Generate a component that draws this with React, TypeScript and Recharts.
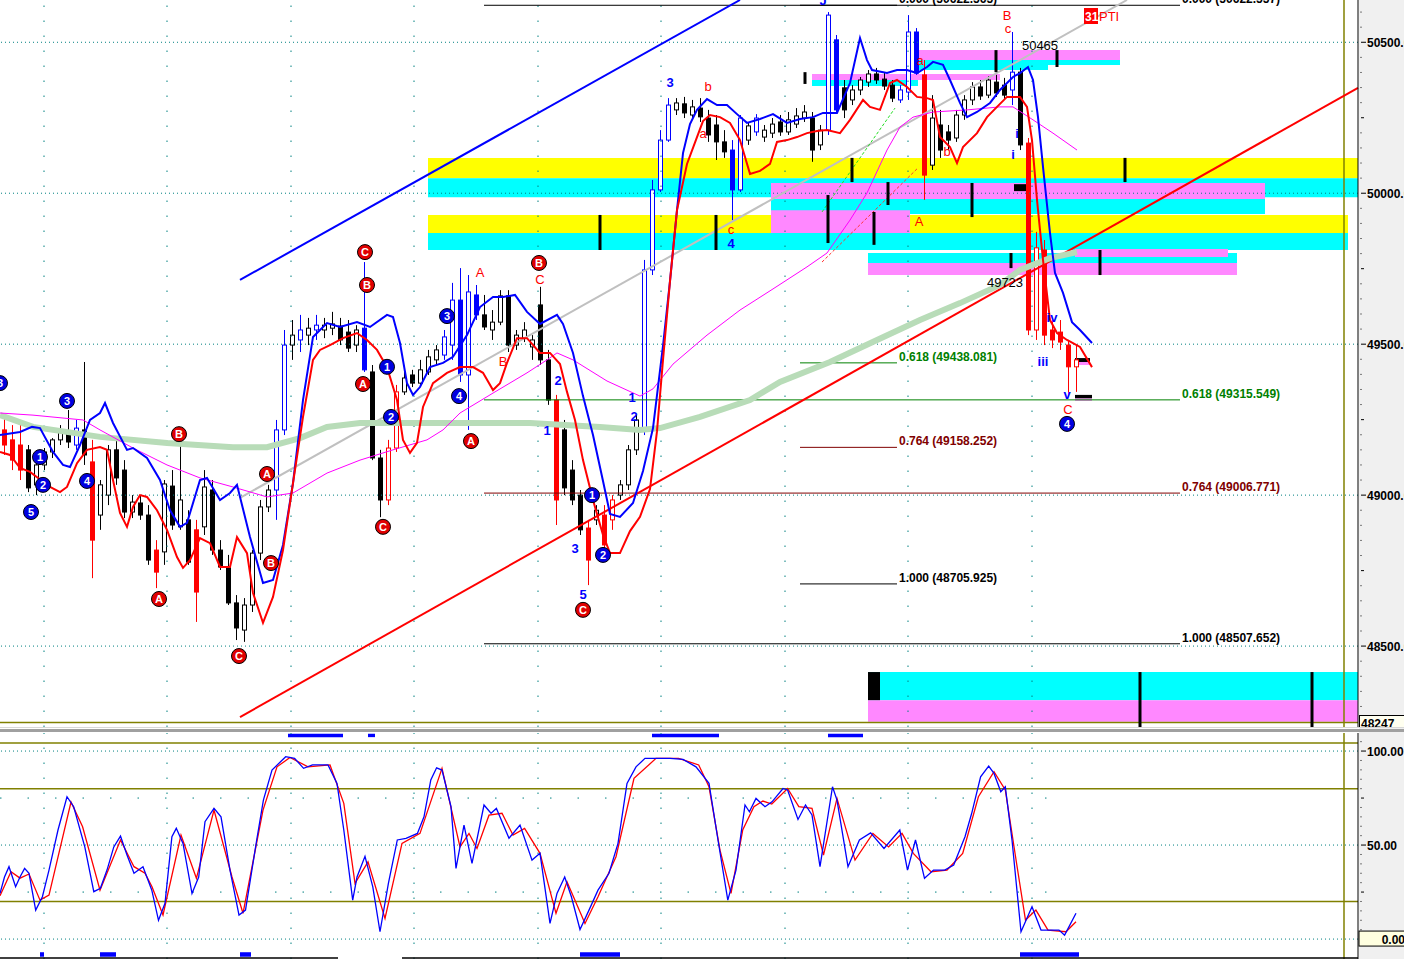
import React from "react";
import {
  ComposedChart,
  XAxis,
  YAxis,
  Bar,
  Line,
  Scatter,
  ReferenceLine,
  ReferenceArea,
} from "recharts";

const W = 1404;
const MAIN_H = 727;
const OSC_H = 226;
const AXIS_W = 46;
const FONT = "'Liberation Sans', Arial, sans-serif";

// time axis: 8-minute bars, first bar at minute 4
const BAR_MINUTES = 8;
const FIRST_BAR = 4;
const SESSION: [number, number] = [0, 1358];
const PRICE_RANGE: [number, number] = [48232, 50640];
const OSC_RANGE: [number, number] = [-10.6, 109.6];

const YELLOW = "#ffff00";
const CYAN = "#00ffff";
const PINK = "#ff88ff";
const OLIVE = "#808000";
const GRID = "#008080";

// ---- price bars ----
const opens = [
  49216, 49183, 49166, 49150, 49034, 49100, 49143, 49183, 49209, 49166,
  49216, 49110, 48934, 49000, 49150, 49083, 48944, 48974, 48934, 48818,
  48812, 49030, 48895, 48918, 48885, 48895, 49017, 48818, 48762, 48643,
  48553, 48636, 48808, 48961, 49017, 49216, 49497, 49514, 49530, 49547,
  49547, 49553, 49560, 49540, 49497, 49553, 49408, 49123, 48984, 49156,
  49342, 49398, 49371, 49408, 49448, 49464, 49497, 49646, 49398, 49663,
  49597, 49547, 49573, 49660, 49497, 49520, 49491, 49630, 49448, 49315,
  49216, 49083, 49000, 48891, 48918, 48934, 48918, 49000, 49034, 49150,
  49216, 49746, 50011, 50176, 50276, 50296, 50259, 50282, 50249, 50226,
  50170, 50143, 50011, 50176, 50203, 50186, 50199, 50236, 50203, 50229,
  50249, 50249, 50160, 50209, 50508, 50349, 50309, 50342, 50368, 50395,
  50378, 50358, 50309, 50335, 50534, 50392, 50093, 50226, 50203, 50183,
  50259, 50309, 50352, 50325, 50368, 50358, 50342, 50401, 50166, 49547,
  49812, 49547, 49540, 49497, 49425,
];
const highs = [
  49265, 49232, 49249, 49166, 49116, 49156, 49189, 49232, 49282, 49249,
  49441, 49183, 49050, 49166, 49183, 49116, 49000, 49000, 48967, 48851,
  49050, 49083, 49173, 48950, 48918, 49083, 49050, 48851, 48802, 48669,
  48659, 48818, 48984, 49034, 49249, 49547, 49580, 49597, 49587, 49597,
  49587, 49607, 49587, 49580, 49563, 49772, 49431, 49150, 49183, 49365,
  49408, 49415, 49448, 49481, 49497, 49547, 49703, 49752, 49729, 49696,
  49663, 49613, 49679, 49679, 49547, 49573, 49530, 49690, 49481, 49332,
  49249, 49116, 49017, 48918, 48967, 48967, 49000, 49050, 49166, 49265,
  49779, 50044, 50209, 50315, 50315, 50319, 50309, 50315, 50276, 50259,
  50209, 50176, 50259, 50236, 50262, 50226, 50249, 50259, 50269, 50282,
  50292, 50269, 50226, 50600, 50524, 50375, 50358, 50385, 50408, 50415,
  50401, 50375, 50358, 50590, 50547, 50441, 50325, 50276, 50226, 50276,
  50325, 50368, 50375, 50388, 50392, 50382, 50534, 50415, 50183, 49872,
  49845, 49587, 49580, 49514, 49497,
];
const lows = [
  49133, 49083, 49050, 49010, 49000, 49083, 49123, 49166, 49156, 49150,
  49100, 48725, 48885, 48967, 49034, 48924, 48924, 48918, 48769, 48692,
  48769, 48885, 48885, 48769, 48580, 48868, 48802, 48752, 48636, 48520,
  48514, 48613, 48785, 48944, 48918, 49199, 49448, 49474, 49497, 49514,
  49520, 49530, 49497, 49474, 49474, 49408, 49116, 48927, 48967, 49143,
  49332, 49358, 49365, 49398, 49431, 49448, 49448, 49375, 49216, 49580,
  49547, 49514, 49563, 49474, 49481, 49507, 49448, 49431, 49299, 48901,
  49000, 48967, 48868, 48702, 48901, 48802, 48885, 48984, 49017, 49133,
  49199, 49729, 50004, 50170, 50259, 50249, 50243, 50236, 50170, 50110,
  50117, 49911, 50004, 50160, 50190, 50170, 50183, 50190, 50193, 50216,
  50236, 50104, 50143, 50193, 50269, 50249, 50292, 50325, 50352, 50362,
  50342, 50302, 50299, 50309, 50392, 49978, 50077, 50117, 50143, 50170,
  50243, 50292, 50309, 50315, 50319, 50309, 50292, 50143, 49530, 49514,
  49497, 49487, 49481, 49332, 49342,
];
const closes = [
  49166, 49116, 49083, 49024, 49100, 49143, 49183, 49209, 49176, 49222,
  49133, 48851, 49034, 49150, 49057, 48944, 48977, 48934, 48785, 48745,
  49037, 48901, 48984, 48778, 48679, 49027, 48818, 48762, 48643, 48560,
  48636, 48808, 48961, 49017, 49216, 49497, 49530, 49547, 49553, 49563,
  49563, 49567, 49514, 49487, 49547, 49415, 49123, 48984, 49156, 49342,
  49388, 49371, 49415, 49458, 49481, 49524, 49646, 49398, 49673, 49597,
  49557, 49573, 49660, 49497, 49530, 49547, 49514, 49448, 49315, 48984,
  49024, 48984, 48885, 48785, 48950, 48835, 48984, 49034, 49150, 49249,
  49746, 50011, 50176, 50292, 50299, 50266, 50286, 50253, 50193, 50170,
  50137, 50011, 50249, 50223, 50249, 50209, 50229, 50203, 50243, 50256,
  50269, 50143, 50209, 50590, 50276, 50276, 50342, 50375, 50395, 50375,
  50355, 50315, 50342, 50534, 50398, 50060, 50249, 50143, 50176, 50259,
  50309, 50352, 50322, 50375, 50332, 50325, 50401, 50160, 49547, 49819,
  49530, 49514, 49507, 49425, 49448,
];
// bar colouring from the trading system: k normal, b blue regime, r red regime
const tones = (
  "rrrkkkkkkb" + "krkkkkkkkr" + "kkkkrkkkkk" + "kkkkbbkbkb" + "kkkkkbkkrr" +
  "kkkkkbbbbb" + "kkkkkkkkkr" + "kkkrkrrkkk" + "bbbbkkkkkk" + "kbbkbkkkkk" +
  "kkkbbkkkkk" + "kkbbbrkkkk" + "kkkkkkbkrr" + "rrrrr"
).split("");

// ---- overlays [minute, price] ----
const upperBand = [
  [0, 49199], [20, 49209], [32, 49226], [40, 49222], [53, 49143], [63, 49100], [70, 49093],
  [80, 49166], [90, 49249], [100, 49272], [105, 49305], [113, 49239], [127, 49150], [133, 49156],
  [147, 49123], [160, 49050], [170, 48950], [180, 48895], [187, 48908], [200, 49050], [207, 49057],
  [220, 48984], [230, 49007], [237, 49034], [250, 48861], [263, 48709], [273, 48719], [283, 48835],
  [293, 49040], [303, 49315], [313, 49524], [327, 49570], [340, 49557], [357, 49573], [370, 49557],
  [387, 49597], [393, 49590], [400, 49504], [407, 49371], [413, 49332], [420, 49358], [430, 49424],
  [443, 49438], [453, 49458], [467, 49530], [480, 49623], [493, 49656], [503, 49656], [515, 49663],
  [527, 49607], [540, 49567], [557, 49597], [563, 49567], [573, 49471], [583, 49328], [593, 49199],
  [603, 49047], [610, 48938], [620, 48928], [633, 48974], [643, 49080], [653, 49222], [663, 49494],
  [670, 49709], [677, 49944], [683, 50133], [690, 50229], [697, 50276], [707, 50312], [717, 50292],
  [727, 50292], [737, 50262], [747, 50233], [760, 50246], [773, 50262], [787, 50233], [800, 50246],
  [813, 50252], [823, 50266], [837, 50266], [850, 50365], [860, 50514], [867, 50441], [872, 50408],
  [887, 50398], [897, 50408], [907, 50408], [917, 50398], [927, 50418], [933, 50435], [943, 50425],
  [950, 50375], [960, 50299], [967, 50252], [977, 50269], [990, 50299], [1000, 50342], [1013, 50385],
  [1020, 50398], [1028, 50418], [1033, 50375], [1038, 50252], [1043, 50087], [1050, 49868],
  [1055, 49736], [1063, 49670], [1072, 49573], [1080, 49547], [1092, 49504],
];
const lowerBand = [
  [0, 49143], [10, 49133], [20, 49090], [30, 49077], [50, 49027], [60, 49010], [67, 49027],
  [77, 49106], [87, 49150], [100, 49159], [107, 49150], [113, 49050], [120, 48941], [127, 48895],
  [133, 48961], [140, 49000], [147, 48994], [157, 48950], [167, 48885], [177, 48795], [183, 48759],
  [190, 48785], [200, 48858], [210, 48841], [220, 48762], [230, 48762], [237, 48861], [247, 48808],
  [253, 48676], [263, 48577], [273, 48663], [283, 48818], [293, 49040], [303, 49259], [313, 49448],
  [320, 49481], [330, 49497], [343, 49520], [357, 49537], [367, 49514], [377, 49481], [387, 49424],
  [397, 49315], [403, 49183], [410, 49140], [417, 49173], [423, 49292], [433, 49371], [447, 49405],
  [460, 49424], [473, 49424], [483, 49405], [493, 49348], [500, 49371], [507, 49438], [517, 49520],
  [527, 49520], [540, 49471], [550, 49471], [560, 49434], [567, 49342], [575, 49249], [583, 49116],
  [593, 48984], [603, 48868], [610, 48808], [620, 48808], [630, 48881], [640, 48928], [650, 49020],
  [657, 49212], [663, 49448], [670, 49709], [677, 49944], [687, 50097], [697, 50186], [703, 50239],
  [710, 50259], [720, 50252], [730, 50233], [740, 50176], [750, 50064], [760, 50074], [770, 50097],
  [777, 50170], [787, 50176], [797, 50186], [807, 50199], [817, 50206], [827, 50209], [840, 50199],
  [850, 50243], [863, 50309], [870, 50286], [880, 50276], [890, 50365], [897, 50375], [907, 50352],
  [917, 50319], [927, 50315], [933, 50309], [940, 50186], [950, 50153], [957, 50100], [963, 50153],
  [977, 50199], [987, 50252], [997, 50286], [1007, 50319], [1020, 50319], [1027, 50286],
  [1032, 50176], [1037, 49978], [1043, 49779], [1050, 49580], [1057, 49537], [1067, 49514],
  [1080, 49491], [1092, 49424],
];
const slowAverage = [
  [0, 49265], [33, 49226], [100, 49193], [167, 49173], [233, 49159], [267, 49159], [300, 49189],
  [327, 49226], [360, 49239], [430, 49239], [530, 49239], [600, 49226], [640, 49216], [660, 49222],
  [700, 49259], [750, 49315], [780, 49375], [830, 49441], [877, 49514], [920, 49580], [960, 49636],
  [1000, 49696], [1020, 49746], [1050, 49785], [1077, 49805],
];
const midAverage = [
  [0, 49272], [33, 49265], [83, 49249], [100, 49216], [133, 49156], [167, 49100], [200, 49057],
  [233, 49027], [267, 48994], [293, 49007], [327, 49073], [360, 49116], [393, 49150], [427, 49183],
  [443, 49216], [460, 49272], [493, 49338], [527, 49405], [547, 49448], [557, 49471], [573, 49448],
  [607, 49378], [640, 49328], [653, 49352], [673, 49434], [707, 49530], [740, 49613], [773, 49683],
  [807, 49756], [827, 49802], [850, 49911], [867, 50001], [887, 50143], [900, 50219], [913, 50252],
  [933, 50269], [967, 50276], [1000, 50286], [1013, 50286], [1033, 50243], [1053, 50199],
  [1077, 50143],
];

// straight trend lines: [minute, price] pairs
const trendLines = [
  { a: [240, 49713], b: [740, 50640], color: "#0000ff", width: 2, dash: undefined },
  { a: [240, 48265], b: [1358, 50349], color: "#ff0000", width: 2, dash: undefined },
  { a: [240, 48991], b: [1127, 50640], color: "#c0c0c0", width: 2, dash: undefined },
  { a: [822, 49938], b: [895, 50282], color: "#22dd22", width: 1, dash: "3 2" },
  { a: [822, 49772], b: [918, 50084], color: "#ff3030", width: 1, dash: "3 2" },
];

const fibLevels = [
  { from: 800, to: 897, price: 50622.565, text: "0.000 (50622.565)", color: "#000000" },
  { from: 800, to: 897, price: 49438.081, text: "0.618 (49438.081)", color: "#008000" },
  { from: 800, to: 897, price: 49158.252, text: "0.764 (49158.252)", color: "#800000" },
  { from: 800, to: 897, price: 48705.925, text: "1.000 (48705.925)", color: "#000000" },
  { from: 484, to: 1180, price: 50622.557, text: "0.000 (50622.557)", color: "#000000" },
  { from: 484, to: 1180, price: 49315.549, text: "0.618 (49315.549)", color: "#008000" },
  { from: 484, to: 1180, price: 49006.771, text: "0.764 (49006.771)", color: "#800000" },
  { from: 484, to: 1180, price: 48507.652, text: "1.000 (48507.652)", color: "#000000" },
];

const zones = [
  { x1: 428, x2: 1358, y1: 50050, y2: 50117, fill: YELLOW },
  { x1: 428, x2: 1358, y1: 49987, y2: 50050, fill: CYAN },
  { x1: 771, x2: 1265, y1: 49981, y2: 50034, fill: PINK },
  { x1: 771, x2: 1265, y1: 49931, y2: 49981, fill: CYAN },
  { x1: 428, x2: 1348, y1: 49868, y2: 49928, fill: YELLOW },
  { x1: 771, x2: 910, y1: 49868, y2: 49944, fill: PINK },
  { x1: 428, x2: 1348, y1: 49812, y2: 49868, fill: CYAN },
  { x1: 868, x2: 1237, y1: 49769, y2: 49802, fill: CYAN },
  { x1: 868, x2: 1237, y1: 49729, y2: 49769, fill: PINK },
  { x1: 1075, x2: 1228, y1: 49789, y2: 49815, fill: PINK },
  { x1: 918, x2: 1120, y1: 50441, y2: 50474, fill: PINK },
  { x1: 918, x2: 1048, y1: 50408, y2: 50441, fill: CYAN },
  { x1: 1048, x2: 1120, y1: 50425, y2: 50441, fill: CYAN },
  { x1: 812, x2: 1000, y1: 50375, y2: 50395, fill: PINK },
  { x1: 812, x2: 918, y1: 50355, y2: 50375, fill: CYAN },
  { x1: 868, x2: 1358, y1: 48321, y2: 48414, fill: CYAN },
  { x1: 868, x2: 1358, y1: 48249, y2: 48321, fill: PINK },
  { x1: 868, x2: 880, y1: 48321, y2: 48414, fill: "#000000" },
  { x1: 1014, x2: 1026, y1: 50007, y2: 50030, fill: "#000000" },
  { x1: 1075, x2: 1090, y1: 49441, y2: 49454, fill: "#000000" },
  { x1: 1075, x2: 1090, y1: 49431, y2: 49441, fill: PINK },
  { x1: 1075, x2: 1092, y1: 49320, y2: 49332, fill: "#000000" },
  { x1: 1075, x2: 1092, y1: 49312, y2: 49320, fill: PINK },
];

// black signal ticks: [minute, top price, bottom price]
const signalTicks = [
  [600, 49928, 49812], [716, 49928, 49812], [828, 49994, 49835], [852, 50117, 50037],
  [874, 49938, 49829], [888, 50037, 49961], [972, 50034, 49921], [1125, 50117, 50037],
  [996, 50474, 50401], [1057, 50474, 50418], [1140, 48414, 48232], [1312, 48414, 48232],
  [1100, 49812, 49729], [1011, 49802, 49752], [805, 50401, 50362],
];

// wave counts: [minute, price, label]
const redCircles = [
  [365, 49805, "C"], [367, 49696, "B"], [363, 49368, "A"], [383, 48895, "C"], [471, 49179, "A"],
  [539, 49769, "B"], [583, 48620, "C"], [179, 49202, "B"], [159, 48656, "A"], [239, 48467, "C"],
  [267, 49070, "A"], [271, 48775, "B"],
];
const blueCircles = [
  [0, 49371, "3"], [31, 48944, "5"], [40, 49126, "1"], [43, 49034, "2"], [67, 49312, "3"],
  [87, 49047, "4"], [387, 49425, "1"], [391, 49259, "2"], [447, 49593, "3"], [459, 49328, "4"],
  [592, 49000, "1"], [603, 48802, "2"], [1067, 49236, "4"],
];
const redLetters = [
  [480, 49739, "A"], [540, 49713, "C"], [503, 49441, "B"], [708, 50352, "b"], [703, 50199, "a"],
  [731, 49881, "c"], [920, 50441, "a"], [947, 50137, "b"], [919, 49905, "A"], [1007, 50590, "B"],
  [1008, 50547, "c"], [1068, 49282, "C"],
];
const blueLetters = [
  [670, 50368, "3"], [731, 49835, "4"], [547, 49213, "1"], [558, 49381, "2"], [575, 48822, "3"],
  [583, 48672, "5"], [632, 49322, "1"], [634, 49259, "2"], [1017, 50199, "i"], [1013, 50127, "i"],
  [1052, 49590, "iv"], [1043, 49441, "iii"], [1067, 49334, "v"], [823, 50640, "J"],
];
const priceNotes = [
  [1040, 50488, "50465"], [1005, 49703, "49723"],
];
const badge = [[1084, 50587, "31"]];

const priceLabels = [48500, 49000, 49500, 50000, 50500];
const lastPrice = 48247;

// ---- stochastic [minute, value] ----
const stochK = [
  [0, 24.3], [4.5, 33], [9, 38.5], [15.6, 27.8], [20, 33], [24.6, 37.6], [29, 35], [35.7, 15.4],
  [42.4, 22.5], [49, 36.7], [58, 58], [67, 75.7], [73.7, 70.4], [84.8, 49], [93.8, 25.2],
  [100.4, 27], [107, 36.7], [113.8, 49], [120.5, 54.8], [127, 44.7], [134, 35], [143, 38.5],
  [151.8, 26], [158.5, 10], [165, 19], [171.9, 54.4], [176.3, 58.9], [183, 50.9], [192, 24.3],
  [198.7, 33], [205, 62.4], [214, 69.5], [221, 65], [230, 36.7], [239, 12.8], [245.5, 15.4],
  [256.7, 52.7], [263.4, 73.9], [272, 89.9], [285.7, 97], [294.6, 96.1], [303.6, 90.8],
  [312.5, 92.6], [328, 92.6], [337, 82.8], [343.8, 58], [352.7, 20.7], [357, 33], [365, 44],
  [372.8, 27.8], [380, 3.9], [388.4, 29.6], [397.3, 52.7], [406, 53.6], [417.4, 56.2], [424, 65],
  [430.8, 84.6], [436.6, 91.1], [442, 89.9], [451, 70.4], [456, 37.6], [464, 60.6], [472, 40.2],
  [484, 71.3], [491, 66.9], [496.4, 69.5], [509, 53.6], [520, 60.6], [532, 42], [540, 45.6],
  [550, 8.3], [557, 24.3], [564.7, 33], [571.4, 22.5], [580, 5.1], [589, 15.4], [598, 26],
  [609, 35], [618, 50.9], [627, 82.8], [636, 91.6], [645, 96.1], [656, 96.1], [670, 96.1],
  [683, 95.6], [696, 91.6], [709, 82.8], [718, 52.7], [727.8, 20.7], [736, 36.7], [745, 71.3],
  [749.4, 67.7], [756, 74.8], [765, 70.4], [772, 73], [783, 80.1], [787.6, 79.3], [798, 63.6],
  [805.5, 71.3], [812, 66], [820, 38.5], [832.5, 81], [837, 73.9], [848, 38.5], [859.4, 52.7],
  [870.6, 56.5], [884, 48.2], [899.8, 58], [907.5, 36.7], [915.5, 52.7], [924.5, 32.3],
  [933.5, 36.7], [944.7, 36.7], [953.7, 39.4], [965, 54.4], [971.7, 66.9], [980.6, 86.3],
  [988.7, 92], [994, 88.1], [1000.8, 78.4], [1005.3, 81], [1012, 52.7], [1021, 3.9], [1032, 17.2],
  [1041, 4.8], [1059, 4.8], [1064.6, 2.1], [1076, 13.7],
];
const stochD = [
  [0, 23], [11, 35.8], [20, 32.4], [29, 34.6], [40, 20.7], [49, 23.4], [71, 72.9], [82.6, 59.7],
  [100, 26], [120.5, 52.7], [134, 38.5], [145, 35], [152, 27.8], [163, 12.8], [181, 55.3],
  [196.4, 32.3], [214, 68.6], [232, 33], [243, 13.7], [263, 68.6], [277, 91.6], [290, 96.6],
  [308, 91.6], [330, 92.6], [343.8, 72.2], [355, 29.6], [368, 41.1], [385, 11], [402, 50.9],
  [420, 56.2], [442, 90.8], [460, 49], [469, 56.2], [477, 48.2], [489, 65.9], [502, 66.9],
  [513, 55.3], [524.6, 58.9], [540, 45.6], [556, 13.7], [567, 30.5], [585, 8.3], [598, 22.5],
  [616, 43.8], [634, 85.5], [656, 96.1], [678.6, 96.1], [698.7, 92.6], [709, 81], [720, 47.3],
  [731, 24.3], [742.7, 58], [753.9, 70.4], [762.9, 73.4], [771.8, 71.8], [787.6, 80.1],
  [798.8, 70.4], [812, 69.5], [823.5, 44.7], [837, 74.8], [855, 42], [872.9, 56.2], [888.6, 49],
  [902, 56.2], [913.3, 45.6], [931, 35.8], [947, 36.7], [962.7, 45.6], [978.4, 75.7], [994, 89],
  [1005.3, 79.3], [1016.6, 40.2], [1025.5, 10.1], [1035.9, 15.4], [1048, 4.8], [1066, 3.9],
  [1076, 9.2],
];
// signal strips above / below the oscillator: [from minute, to minute]
const stripTop = [[288, 343], [368, 375], [652, 719], [828, 863]];
const stripBottom = [[40, 44], [100, 116], [240, 251], [580, 620], [1020, 1079]];
const oscLabels = [0, 50, 100];

const gridMinutes = [44, 167, 291, 414, 538, 661, 785, 908, 1032];

const TONE: Record<string, string> = { k: "#000000", b: "#0000ff", r: "#ff0000" };

const candles = opens.map((open, i) => ({
  minute: FIRST_BAR + i * BAR_MINUTES,
  open,
  high: highs[i],
  low: lows[i],
  close: closes[i],
  tone: tones[i],
  range: [lows[i], highs[i]],
}));

const pts = (rows: any[]) => rows.map(([minute, v, text]) => ({ minute, v, text }));

const priceTicks: number[] = [];
for (let p = 48250; p <= 50600; p += 50) priceTicks.push(p);
const oscTicks: number[] = [];
for (let v = 0; v <= 105; v += 5) oscTicks.push(v);

function Candle(props: any) {
  const { x, y, width, height, payload } = props;
  if (!payload || height == null) return null;
  const { open, close, high, low, tone } = payload;
  const top = Math.min(y, y + height);
  const span = Math.abs(height);
  const k = span / (high - low || 1);
  const yo = top + (high - open) * k;
  const yc = top + (high - close) * k;
  const cx = Math.round(x + width / 2);
  const color = TONE[tone];
  const rising = close >= open;
  const bt = Math.min(yo, yc);
  const bh = Math.max(1, Math.abs(yc - yo));
  return (
    <g>
      <line x1={cx + 0.5} x2={cx + 0.5} y1={top} y2={top + span} stroke={color} strokeWidth={1} />
      <rect x={cx - 1.5} y={bt} width={4} height={bh} fill={rising ? "#ffffff" : color} stroke={color} strokeWidth={1} />
    </g>
  );
}

const circleShape = (fill: string) => (p: any) => (
  <g>
    <circle cx={p.cx} cy={p.cy} r={7.5} fill={fill} stroke="#000" strokeWidth={1} />
    <text x={p.cx} y={p.cy} dy={4} textAnchor="middle" fontSize={11} fontWeight="bold" fill="#fff" fontFamily={FONT}>
      {p.payload.text}
    </text>
  </g>
);

const letterShape = (fill: string, bold: boolean) => (p: any) => (
  <text x={p.cx} y={p.cy} dy={4.5} textAnchor="middle" fontSize={13} fontWeight={bold ? "bold" : "normal"} fill={fill} fontFamily={FONT}>
    {p.payload.text}
  </text>
);

const badgeShape = (p: any) => (
  <g>
    <rect x={p.cx} y={p.cy - 8} width={14} height={16} fill="#ff0000" />
    <text x={p.cx + 1} y={p.cy} dy={5} fontSize={12} fontWeight="bold" fill="#fff" fontFamily={FONT}>{p.payload.text}</text>
    <text x={p.cx + 15} y={p.cy} dy={5} fontSize={13} fill="#ff0000" fontFamily={FONT}>PTI</text>
  </g>
);

const fibShape = (p: any) => (
  <text x={p.cx} y={p.cy - 2} fontSize={12} fontWeight="bold" fill={p.payload.color} fontFamily={FONT}>
    {p.payload.text}
  </text>
);

function PriceTick(props: any) {
  const { x, y, payload } = props;
  const v = payload.value;
  if (v % 500 === 0) {
    return (
      <g>
        <line x1={x + 3} x2={x + 8} y1={y} y2={y} stroke="#000" />
        <text x={x + 9} y={y} dy={4.5} fontSize={12} fontWeight="bold" fill="#000" fontFamily={FONT}>{v.toFixed(2)}</text>
      </g>
    );
  }
  if (v % 250 === 0) return <line x1={x + 3} x2={x + 6} y1={y} y2={y} stroke="#000" />;
  return <rect x={x + 2.5} y={y - 0.5} width={1} height={1} fill="#000" />;
}

function OscTick(props: any) {
  const { x, y, payload } = props;
  const v = payload.value;
  if (v === 0) {
    return (
      <g>
        <rect x={x + 1} y={y - 8} width={46} height={15} fill="#ffffe0" stroke="#000" />
        <text x={x + 47} y={y} dy={4.5} textAnchor="end" fontSize={12} fontWeight="bold" fill="#000" fontFamily={FONT}>0.00</text>
      </g>
    );
  }
  if (oscLabels.includes(v)) {
    return (
      <g>
        <line x1={x + 3} x2={x + 8} y1={y} y2={y} stroke="#000" />
        <text x={x + 9} y={y} dy={4.5} fontSize={12} fontWeight="bold" fill="#000" fontFamily={FONT}>{v.toFixed(2)}</text>
      </g>
    );
  }
  if (v % 25 === 0) return <line x1={x + 3} x2={x + 6} y1={y} y2={y} stroke="#000" />;
  return <rect x={x + 2.5} y={y - 0.5} width={1} height={1} fill="#000" />;
}

function PriceChart() {
  return (
    <ComposedChart width={W} height={MAIN_H} data={candles} margin={{ top: 0, right: 0, bottom: 0, left: 0 }}>
      <XAxis dataKey="minute" type="number" domain={SESSION} allowDataOverflow hide />
      <YAxis
        orientation="right"
        type="number"
        width={AXIS_W}
        domain={PRICE_RANGE}
        allowDataOverflow
        ticks={priceTicks}
        interval={0}
        tick={(p: any) => <PriceTick {...p} />}
        tickLine={false}
        tickSize={0}
        tickMargin={0}
        axisLine={{ stroke: "#000" }}
      />

      {zones.map((z, i) => (
        <ReferenceArea key={`z${i}`} x1={z.x1} x2={z.x2} y1={z.y1} y2={z.y2} fill={z.fill} fillOpacity={1} stroke="none" />
      ))}

      {priceLabels.map((p) => (
        <ReferenceLine key={`h${p}`} y={p} stroke={GRID} strokeDasharray="1 3" />
      ))}
      {gridMinutes.map((m) => (
        <ReferenceLine key={`v${m}`} x={m} stroke={GRID} strokeDasharray="1.5 13.5" />
      ))}
      <ReferenceLine x={1344} stroke={OLIVE} strokeWidth={1.5} />
      <ReferenceLine y={lastPrice} stroke={OLIVE} strokeWidth={1.5} />

      {fibLevels.map((f, i) => (
        <ReferenceLine
          key={`f${i}`}
          segment={[{ x: f.from, y: f.price }, { x: f.to, y: f.price }]}
          stroke={f.color}
          strokeWidth={1}
        />
      ))}

      {trendLines.map((t, i) => (
        <ReferenceLine
          key={`t${i}`}
          segment={[{ x: t.a[0], y: t.a[1] }, { x: t.b[0], y: t.b[1] }]}
          stroke={t.color}
          strokeWidth={t.width}
          strokeDasharray={t.dash}
        />
      ))}

      <Line data={pts(slowAverage)} dataKey="v" stroke="#b8dcb8" strokeWidth={6} dot={false} isAnimationActive={false} />
      <Line data={pts(midAverage)} dataKey="v" stroke="#ff00ff" strokeWidth={1} dot={false} isAnimationActive={false} />

      <Bar dataKey="range" barSize={5} shape={Candle} isAnimationActive={false} />

      <Line data={pts(upperBand)} dataKey="v" stroke="#0000ff" strokeWidth={2} dot={false} isAnimationActive={false} />
      <Line data={pts(lowerBand)} dataKey="v" stroke="#ff0000" strokeWidth={2} dot={false} isAnimationActive={false} />

      {signalTicks.map(([m, top, bottom], i) => (
        <ReferenceLine key={`s${i}`} segment={[{ x: m, y: top }, { x: m, y: bottom }]} stroke="#000" strokeWidth={3} />
      ))}

      <Scatter
        data={fibLevels.map((f) => ({ minute: f.to + 2, v: f.price, text: f.text, color: f.color }))}
        dataKey="v"
        shape={fibShape}
        isAnimationActive={false}
      />
      <Scatter data={pts(redCircles)} dataKey="v" shape={circleShape("#e00000")} isAnimationActive={false} />
      <Scatter data={pts(blueCircles)} dataKey="v" shape={circleShape("#0000e0")} isAnimationActive={false} />
      <Scatter data={pts(redLetters)} dataKey="v" shape={letterShape("#ff0000", false)} isAnimationActive={false} />
      <Scatter data={pts(blueLetters)} dataKey="v" shape={letterShape("#0000ff", true)} isAnimationActive={false} />
      <Scatter data={pts(priceNotes)} dataKey="v" shape={letterShape("#000000", false)} isAnimationActive={false} />
      <Scatter data={pts(badge)} dataKey="v" shape={badgeShape} isAnimationActive={false} />
    </ComposedChart>
  );
}

function StochChart() {
  return (
    <ComposedChart width={W} height={OSC_H} margin={{ top: 0, right: 0, bottom: 0, left: 0 }}>
      <XAxis dataKey="minute" type="number" domain={SESSION} allowDataOverflow hide />
      <YAxis
        orientation="right"
        type="number"
        width={AXIS_W}
        domain={OSC_RANGE}
        allowDataOverflow
        ticks={oscTicks}
        interval={0}
        tick={(p: any) => <OscTick {...p} />}
        tickLine={false}
        tickSize={0}
        tickMargin={0}
        axisLine={{ stroke: "#000" }}
      />

      {oscLabels.map((v) => (
        <ReferenceLine key={`h${v}`} y={v} stroke={GRID} strokeDasharray="1 3" />
      ))}
      {[25, 75].map((v) => (
        <ReferenceLine key={`q${v}`} segment={[{ x: 0, y: v }, { x: 1060, y: v }]} stroke={GRID} strokeDasharray="1.5 26" />
      ))}
      {gridMinutes.map((m) => (
        <ReferenceLine key={`v${m}`} x={m} stroke={GRID} strokeDasharray="1.5 13.5" />
      ))}
      {[20, 80, 104.3].map((v) => (
        <ReferenceLine key={`o${v}`} y={v} stroke={OLIVE} strokeWidth={1.5} />
      ))}
      <ReferenceLine x={1344} stroke={OLIVE} strokeWidth={1.5} />

      {stripTop.map(([a, b], i) => (
        <ReferenceArea key={`st${i}`} x1={a} x2={b} y1={107.4} y2={109.2} fill="#0000ff" fillOpacity={1} stroke="none" />
      ))}
      {stripBottom.map(([a, b], i) => (
        <ReferenceArea key={`sb${i}`} x1={a} x2={b} y1={-9.4} y2={-7} fill="#0000ff" fillOpacity={1} stroke="none" />
      ))}
      <ReferenceLine segment={[{ x: 0, y: -10.1 }, { x: 338, y: -10.1 }]} stroke="#000" strokeWidth={1.5} />
      <ReferenceLine segment={[{ x: 402, y: -10.1 }, { x: 1358, y: -10.1 }]} stroke="#000" strokeWidth={1.5} />

      <Line data={pts(stochD)} dataKey="v" stroke="#ff0000" strokeWidth={1.3} dot={false} isAnimationActive={false} />
      <Line data={pts(stochK)} dataKey="v" stroke="#0000ff" strokeWidth={1.3} dot={false} isAnimationActive={false} />
    </ComposedChart>
  );
}

export default function App() {
  return (
    <div style={{ position: "absolute", left: 0, top: 0, width: W, height: 959, background: "#ffffff", overflow: "hidden", fontFamily: FONT }}>
      <div style={{ position: "absolute", left: 1359, top: 0, width: 45, height: 959, background: "#f0f0f0" }} />
      <div style={{ position: "absolute", left: 0, top: 0 }}>
        <PriceChart />
      </div>
      <svg style={{ position: "absolute", left: 0, top: 0 }} width={W} height={MAIN_H}>
        <rect x={1359.5} y={715.5} width={46} height={13} fill="#fffff0" stroke="#000" />
        <text x={1361} y={728} fontSize={12} fontWeight="bold" fill="#000" fontFamily={FONT}>{lastPrice}</text>
      </svg>
      <div style={{ position: "absolute", left: 0, top: 727, width: W, height: 1, background: "#d8d8d8" }} />
      <div style={{ position: "absolute", left: 0, top: 729, width: W, height: 3, background: "#a0a0a0" }} />
      <div style={{ position: "absolute", left: 0, top: 733 }}>
        <StochChart />
      </div>
    </div>
  );
}
